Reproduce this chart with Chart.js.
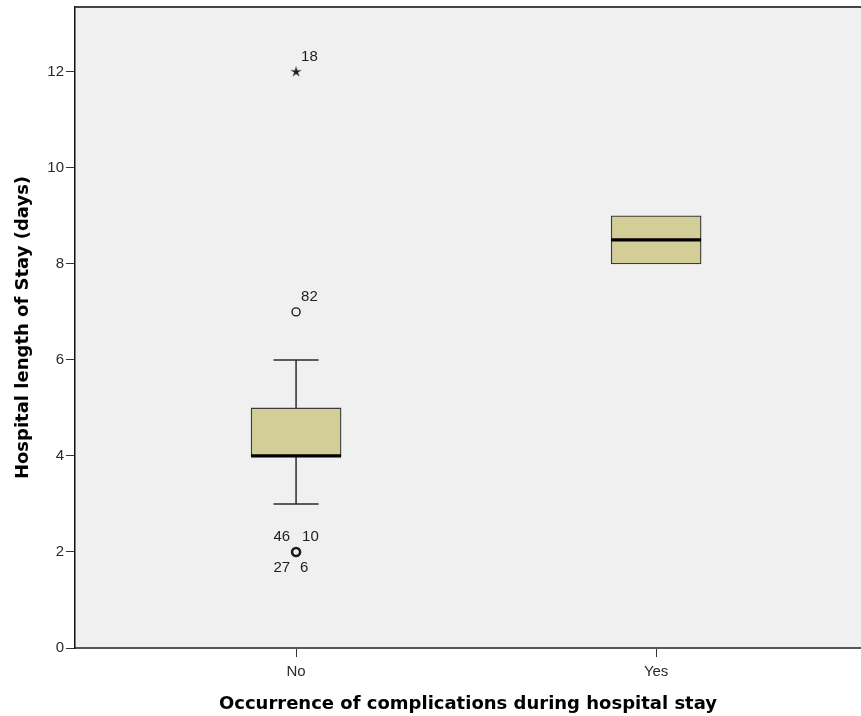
<!DOCTYPE html>
<html>
<head>
<meta charset="utf-8">
<script src="https://cdn.jsdelivr.net/npm/chart.js@4/dist/chart.umd.min.js"></script>
<style>
  html, body { margin: 0; padding: 0; background: #ffffff; overflow: hidden; }
  #wrap { width: 861px; height: 716px; }
  #c { display: block; }
</style>
</head>
<body>
<div id="wrap"><canvas id="c" width="861" height="716"></canvas></div>
<script>
// Groups on the x axis and their positions
const groups = ['No', 'Yes'];
const groupPos = [0, 1];

// Five-number summaries per group (days)
const lowerQuartile = [4, 8];
const medianValue = [4, 8.5];
const upperQuartile = [5, 9];
const whiskerLow = [3, 8];
const whiskerHigh = [6, 9];

// Outliers (circles) and extreme values (stars) with their case numbers
const outlierGroup = [0, 0];
const outlierValue = [7, 2];
const outlierCases = [['82'], ['46', '10', '27', '6']];
const extremeGroup = [0];
const extremeValue = [12];
const extremeCases = [['18']];

// Y axis tick values
const yTicks = [0, 2, 4, 6, 8, 10, 12];

const BOX_HALF = 0.125;   // half box width in x units
const CAP_HALF = 0.0625;  // half whisker-cap width in x units
const INK = '#2b2b2b';
const TICK_FONT = { family: 'Liberation Sans', size: 15 };

// Asterisk marker used for extreme values
function makeStar() {
  const s = 14, c = document.createElement('canvas');
  c.width = s; c.height = s;
  const g = c.getContext('2d');
  g.fillStyle = '#1a1a1a';
  g.beginPath();
  for (let i = 0; i < 10; i++) {
    const r = i % 2 === 0 ? 6 : 1.9;
    const a = -Math.PI / 2 + i * Math.PI / 5;
    const px = s / 2 + r * Math.cos(a), py = s / 2 + r * Math.sin(a);
    if (i === 0) g.moveTo(px, py); else g.lineTo(px, py);
  }
  g.closePath();
  g.fill();
  return c;
}

function segment(x1, y1, x2, y2, width, color, order) {
  return {
    type: 'line',
    data: [{ x: x1, y: y1 }, { x: x2, y: y2 }],
    borderColor: color,
    borderWidth: width,
    pointRadius: 0,
    fill: false,
    tension: 0,
    order: order
  };
}

const datasets = [];

// Whiskers and caps
groupPos.forEach((g, i) => {
  if (whiskerLow[i] < lowerQuartile[i]) {
    datasets.push(segment(g, whiskerLow[i], g, lowerQuartile[i], 1.5, INK, 4));
    datasets.push(segment(g - CAP_HALF, whiskerLow[i], g + CAP_HALF, whiskerLow[i], 1.5, INK, 4));
  }
  if (whiskerHigh[i] > upperQuartile[i]) {
    datasets.push(segment(g, upperQuartile[i], g, whiskerHigh[i], 1.5, INK, 4));
    datasets.push(segment(g - CAP_HALF, whiskerHigh[i], g + CAP_HALF, whiskerHigh[i], 1.5, INK, 4));
  }
});

// Boxes (interquartile range)
datasets.push({
  type: 'bar',
  data: groupPos.map((g, i) => ({ x: g, y: [lowerQuartile[i], upperQuartile[i]] })),
  backgroundColor: '#d3ce98',
  borderColor: '#3a3a3a',
  borderWidth: 1.3,
  borderSkipped: false,
  barThickness: 90,
  order: 3
});

// Medians
groupPos.forEach((g, i) => {
  datasets.push(segment(g - BOX_HALF, medianValue[i], g + BOX_HALF, medianValue[i], 3.2, '#000000', 1));
});

// Outliers
datasets.push({
  type: 'scatter',
  data: outlierGroup.map((g, i) => ({ x: groupPos[g], y: outlierValue[i] })),
  pointStyle: 'circle',
  pointRadius: 4,
  pointBorderColor: '#1a1a1a',
  pointBackgroundColor: 'rgba(0,0,0,0)',
  pointBorderWidth: outlierCases.map(c => c.length > 1 ? 2.6 : 1.4),
  order: 0
});

// Extreme values
datasets.push({
  type: 'scatter',
  data: extremeGroup.map((g, i) => ({ x: groupPos[g], y: extremeValue[i] })),
  pointStyle: makeStar(),
  pointRadius: 6,
  order: 0
});

// Plot-area background and frame
const framePlugin = {
  id: 'frame',
  beforeDraw(chart) {
    const { ctx, chartArea: a } = chart;
    ctx.save();
    ctx.fillStyle = '#f0f0f0';
    ctx.fillRect(a.left, a.top, a.right - a.left, a.bottom - a.top);
    ctx.restore();
  },
  afterDraw(chart) {
    const { ctx, chartArea: a } = chart;
    ctx.save();
    ctx.strokeStyle = '#444444';
    ctx.lineWidth = 2;
    ctx.beginPath();
    ctx.moveTo(a.left, a.top);
    ctx.lineTo(a.right, a.top);
    ctx.stroke();
    ctx.restore();
  }
};

// Case-number labels next to outliers and extremes
const caseLabelPlugin = {
  id: 'caseLabels',
  afterDatasetsDraw(chart) {
    const { ctx, scales: { x, y } } = chart;
    ctx.save();
    ctx.font = '15px "Liberation Sans", Arial, sans-serif';
    ctx.fillStyle = '#1e1e1e';
    ctx.textBaseline = 'middle';
    const place = (px, py, cases) => {
      if (cases.length === 1) {
        ctx.textAlign = 'left';
        ctx.fillText(cases[0], px + 5, py - 15);
        return;
      }
      const spots = [[-6, -15, 'right'], [6, -15, 'left'], [-6, 16, 'right'], [4, 16, 'left']];
      cases.forEach((c, k) => {
        const [dx, dy, al] = spots[k % 4];
        ctx.textAlign = al;
        ctx.fillText(c, px + dx, py + dy);
      });
    };
    outlierGroup.forEach((g, i) => {
      place(x.getPixelForValue(groupPos[g]), y.getPixelForValue(outlierValue[i]), outlierCases[i]);
    });
    extremeGroup.forEach((g, i) => {
      place(x.getPixelForValue(groupPos[g]), y.getPixelForValue(extremeValue[i]), extremeCases[i]);
    });
    ctx.restore();
  }
};

new Chart(document.getElementById('c'), {
  type: 'bar',
  data: { datasets },
  options: {
    responsive: false,
    animation: false,
    events: [],
    layout: { autoPadding: false, padding: { top: 7, right: 0, bottom: 0, left: 0 } },
    plugins: { legend: { display: false }, tooltip: { enabled: false } },
    scales: {
      x: {
        type: 'linear',
        min: -0.614,
        max: 1.569,
        offset: false,
        afterBuildTicks: s => { s.ticks = groupPos.map(v => ({ value: v })); },
        afterFit: s => { s.height = 68; s.paddingLeft = 0; s.paddingRight = 0; },
        ticks: {
          callback: (v, i) => groups[i],
          color: '#2a2a2a',
          font: TICK_FONT,
          padding: 6,
          maxRotation: 0,
          autoSkip: false
        },
        grid: { offset: false, drawOnChartArea: false, drawTicks: true, tickLength: 9, color: '#333333', lineWidth: 1 },
        border: { display: true, color: '#555555', width: 2 },
        title: {
          display: true,
          text: 'Occurrence of complications during hospital stay',
          color: '#000000',
          font: { family: 'DejaVu Sans', weight: 'bold', size: 18 },
          padding: { top: 0, bottom: 1 }
        }
      },
      y: {
        type: 'linear',
        min: 0,
        max: 13.35,
        afterBuildTicks: s => { s.ticks = yTicks.map(v => ({ value: v })); },
        afterFit: s => { s.width = 75; s.paddingTop = 0; s.paddingBottom = 0; },
        ticks: {
          color: '#2a2a2a',
          font: TICK_FONT,
          padding: 2
        },
        grid: { drawOnChartArea: false, drawTicks: true, tickLength: 9, color: '#333333', lineWidth: 1 },
        border: { display: true, color: '#111111', width: 1.5 },
        title: {
          display: true,
          text: 'Hospital length of Stay (days)',
          color: '#000000',
          font: { family: 'DejaVu Sans', weight: 'bold', size: 18 },
          padding: { top: 13, bottom: 0 }
        }
      }
    }
  },
  plugins: [framePlugin, caseLabelPlugin]
});
</script>
</body>
</html>
